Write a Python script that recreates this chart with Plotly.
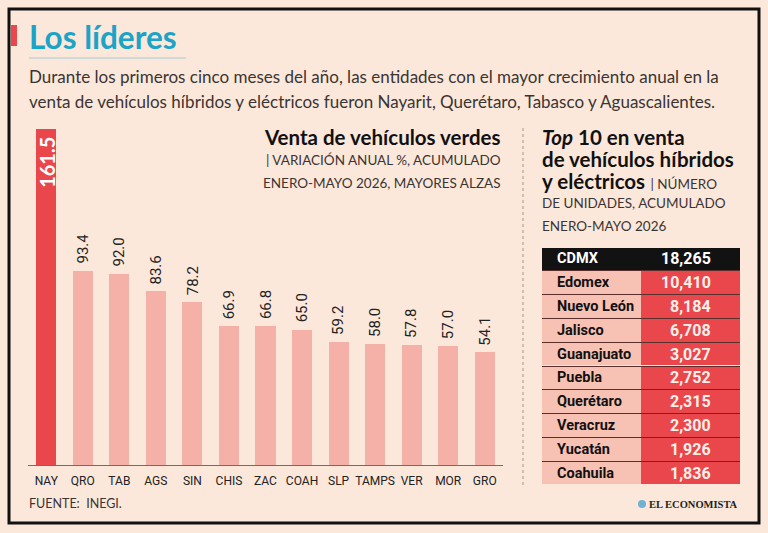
import plotly.graph_objects as go

# ---------------- data ----------------
states = ["NAY", "QRO", "TAB", "AGS", "SIN", "CHIS", "ZAC", "COAH", "SLP", "TAMPS", "VER", "MOR", "GRO"]
growth = [161.5, 93.4, 92.0, 83.6, 78.2, 66.9, 66.8, 65.0, 59.2, 58.0, 57.8, 57.0, 54.1]

top_entities = ["CDMX", "Edomex", "Nuevo León", "Jalisco", "Guanajuato", "Puebla",
                "Querétaro", "Veracruz", "Yucatán", "Coahuila"]
top_units = [18265, 10410, 8184, 6708, 3027, 2752, 2315, 2300, 1926, 1836]

# ---------------- styles ----------------
W, H = 768, 533
BG = "#fce8da"
RED = "#e9474b"
PINK_BAR = "#f5b1a7"
PINK_CELL = "#f7c2b4"
HEAD = "#121212"
TEAL = "#1ba4c8"
TXT = "#3a3433"
NARROW = "Roboto, Liberation Sans Narrow, sans-serif"
SANS = "Lato, Open Sans, sans-serif"


def px(x):
    return x / W


def py(y):
    return 1 - y / H


fig = go.Figure()

# ---- bar chart ----
bar_colors = [RED if i == 0 else PINK_BAR for i in range(len(states))]
fig.add_trace(go.Bar(
    x=list(range(len(states))), y=growth, marker=dict(color=bar_colors, line=dict(width=0)),
    width=0.55, hoverinfo="skip", showlegend=False, xaxis="x", yaxis="y",
))

annotations = []
for i, v in enumerate(growth):
    if i == 0:
        annotations.append(dict(
            x=i, y=v, xref="x", yref="y", text=f"<b>{v:.1f}</b>", textangle=-90,
            showarrow=False, yanchor="top", xanchor="center", yshift=-6,
            font=dict(family=SANS, size=20, color="white"),
        ))
    else:
        annotations.append(dict(
            x=i, y=v, xref="x", yref="y", text=f"{v:.1f}", textangle=-90,
            showarrow=False, yanchor="bottom", xanchor="center", yshift=5,
            font=dict(family=NARROW, size=15, color="#222"),
        ))

# ---- table built from two columns of horizontal bars ----
rows = list(range(len(top_entities)))
left_colors = [HEAD if r == 0 else PINK_CELL for r in rows]
right_colors = [HEAD if r == 0 else RED for r in rows]
fig.add_trace(go.Bar(
    y=rows, x=[1] * len(rows), base=0, orientation="h", width=0.955,
    marker=dict(color=left_colors, line=dict(width=0)), hoverinfo="skip",
    showlegend=False, xaxis="x2", yaxis="y2",
))
fig.add_trace(go.Bar(
    y=rows, x=[1] * len(rows), base=1, orientation="h", width=0.955,
    marker=dict(color=right_colors, line=dict(width=0)), hoverinfo="skip",
    showlegend=False, xaxis="x2", yaxis="y2",
))
for r, (name, val) in enumerate(zip(top_entities, top_units)):
    annotations.append(dict(
        x=0.13, y=r, xref="x2", yref="y2", text=f"<b>{name}</b>", showarrow=False,
        xanchor="left", yanchor="middle",
        font=dict(family=NARROW, size=14.5, color="white" if r == 0 else "#111"),
    ))
    annotations.append(dict(
        x=1.73, y=r, xref="x2", yref="y2", text=f"<b>{val:,}</b>", showarrow=False,
        xanchor="right", yanchor="middle",
        font=dict(family=NARROW, size=16, color="white" if r == 0 else "#fdf0ea"),
    ))


def txt(x, y, text, size, color=TXT, family=SANS, xanchor="left"):
    annotations.append(dict(x=px(x), y=py(y), xref="paper", yref="paper", text=text,
                            showarrow=False, xanchor=xanchor, yanchor="middle",
                            font=dict(family=family, size=size, color=color)))


# header texts
txt(27, 37, "<b>Los líderes</b>", 31.5, color=TEAL)
txt(27, 77, "Durante los primeros cinco meses del año, las entidades con el mayor crecimiento anual en la", 17)
txt(27, 101, "venta de vehículos híbridos y eléctricos fueron Nayarit, Querétaro, Tabasco y Aguascalientes.", 17)

txt(503, 137, "<b>Venta de vehículos verdes</b>", 20.5, color="#111", xanchor="right")
txt(503, 160, "| VARIACIÓN ANUAL %, ACUMULADO", 13.5, xanchor="right")
txt(503, 183, "ENERO-MAYO 2026, MAYORES ALZAS", 13.5, xanchor="right")

txt(540, 137, "<b><i>Top</i> 10 en venta</b>", 20.5, color="#111")
txt(540, 159, "<b>de vehículos híbridos</b>", 20.5, color="#111")
txt(540, 181, "<b>y eléctricos</b> <span style='font-size:13.5px;color:#3a3433'>| NÚMERO</span>", 20.5, color="#111")
txt(540, 203, "DE UNIDADES, ACUMULADO", 13.5)
txt(540, 226, "ENERO-MAYO 2026", 13.5)

txt(27, 503, "FUENTE:  INEGI.", 12.5)
txt(740, 504, "<b>EL ECONOMISTA</b>", 10.5, color="#222", family="Liberation Serif, DejaVu Serif, serif", xanchor="right")

shapes = [
    dict(type="rect", xref="paper", yref="paper", x0=px(9), x1=px(759), y0=py(523), y1=py(9),
         line=dict(color="#111", width=3), fillcolor="rgba(0,0,0,0)", layer="above"),
    dict(type="rect", xref="paper", yref="paper", x0=px(11), x1=px(17), y0=py(46), y1=py(25),
         line=dict(width=0), fillcolor=RED),
    dict(type="line", xref="paper", yref="paper", x0=px(29), x1=px(186), y0=py(58), y1=py(58),
         line=dict(color="#9fcdd8", width=1)),
    dict(type="line", xref="paper", yref="paper", x0=px(523), x1=px(523), y0=py(128), y1=py(486),
         line=dict(color="#a09590", width=1, dash="dot")),
    dict(type="circle", xref="paper", yref="paper", x0=px(638), x1=px(646), y0=py(508), y1=py(500),
         line=dict(width=0), fillcolor="#6fb2d6"),
]

fig.update_layout(
    width=W, height=H, margin=dict(l=0, r=0, t=0, b=0),
    paper_bgcolor=BG, plot_bgcolor=BG,
    xaxis=dict(domain=[px(28), px(503)], range=[-0.5, len(states) - 0.5],
               tickvals=list(range(len(states))), ticktext=states,
               showline=True, linecolor="#7a6a66", linewidth=1,
               showgrid=False, zeroline=False, ticks="outside", ticklen=5, tickcolor=BG,
               tickfont=dict(family=NARROW, size=12, color="#222"), fixedrange=True),
    yaxis=dict(domain=[py(465), py(120)], range=[0, 345 / 2.08], visible=False, fixedrange=True),
    xaxis2=dict(domain=[px(542), px(740)], range=[0, 2], visible=False, anchor="y2", fixedrange=True),
    yaxis2=dict(domain=[py(485), py(247)], range=[len(rows) - 0.5, -0.5], anchor="x2",
                tickvals=[r + 0.5 for r in rows[:-1]], showticklabels=False, ticks="",
                showgrid=True, gridcolor="#5a2e2a", gridwidth=1, zeroline=False, fixedrange=True),
    annotations=annotations, shapes=shapes, barmode="overlay", bargap=0, showlegend=False,
)

fig.write_html("out.html")
